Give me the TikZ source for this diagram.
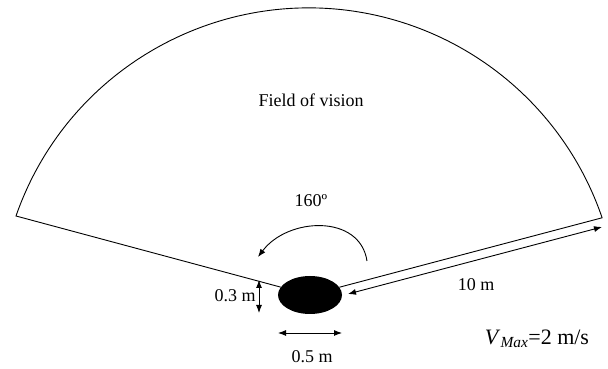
\documentclass[tikz,border=0pt]{standalone}
\usepackage{fontspec}
\setmainfont{Liberation Serif}
\usetikzlibrary{shapes.geometric,arrows.meta}
\begin{document}
\begin{tikzpicture}[x=1pt,y=1pt,
  line/.style={line width=0.9pt},
  dim/.style={line width=0.9pt,{Latex[length=8pt,width=6pt]}-{Latex[length=8pt,width=6pt]}},
  lbl/.style={font=\fontsize{18}{20}\selectfont, inner sep=0pt}]
\useasboundingbox (0,0) rectangle (608,369);
% robot
\node[ellipse, fill=black, minimum width=64pt, minimum height=38pt, inner sep=0pt] (robot) at (310,74) {};
\coordinate (L) at (16,153);
\coordinate (R) at (602.1,151.2);
% field of vision
\draw[line] (robot) -- (L) arc[start angle=160.8, end angle=18.85, radius=310] -- (robot);
\node[lbl] (fov) at (311,269) {Field of vision};
% angle
\node[lbl] (ang) at (311,168) {160º};
\coordinate (ca) at (367,108);
\coordinate (cb) at (258,112);
\draw[line,-{Latex[length=8pt,width=6pt]}] (ca) .. controls (360,155) and (288,152) .. (cb);
% 10 m
\coordinate (da) at (348,75);
\coordinate (db) at (602,142);
\draw[dim] (da) -- (db);
\node[lbl] (ten) at (476,84) {10 m};
% 0.3 m
\coordinate (ha) at (259,89);
\coordinate (hb) at (259,56);
\draw[dim] (ha) -- (hb);
\node[lbl] (h) at (235,73) {0.3 m};
% 0.5 m
\coordinate (wa) at (278,36);
\coordinate (wb) at (342,36);
\draw[dim] (wa) -- (wb);
\node[lbl] (w) at (312,12) {0.5 m};
% vmax
\node[font=\fontsize{22}{24}\selectfont, inner sep=0pt] (v) at (537,30) {\textit{V}\textsubscript{\textit{Max}}=2 m/s};
\end{tikzpicture}
\end{document}
